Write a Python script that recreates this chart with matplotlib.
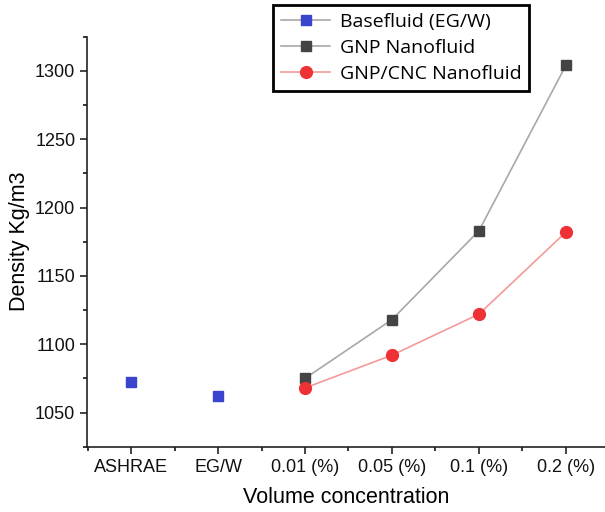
import numpy as np
import matplotlib.pyplot as plt
from matplotlib.lines import Line2D
from matplotlib.ticker import MultipleLocator

# density values (kg/m3)
categorias = ["ASHRAE", "EG/W", "0.01 (%)", "0.05 (%)", "0.1 (%)", "0.2 (%)"]
base_idx = [0, 1]
base_dens = [1072, 1062]
nano_idx = [2, 3, 4, 5]
gnp_dens = [1075, 1118, 1183, 1304]
gnp_cnc_dens = [1068, 1092, 1122, 1182]

plt.rcParams['font.family'] = ['Liberation Sans', 'DejaVu Sans']

fig = plt.figure(figsize=(6.05, 5.12), dpi=100)
ax = fig.add_axes([0.144, 0.1275, 0.856, 0.8008])

ax.plot(base_idx, base_dens, linestyle='', marker='s', markersize=7, color='#3a43cc')
ax.plot(nano_idx, gnp_dens, color='#a8a8a8', lw=1.2, marker='s', markersize=7,
        markerfacecolor='#444444', markeredgecolor='#444444')
ax.plot(nano_idx, gnp_cnc_dens, color='#f39a9a', lw=1.2, marker='o', markersize=8.5,
        markerfacecolor='#ee3135', markeredgecolor='#ee3135')

ax.set_xlim(-0.506, 5.45)
ax.set_ylim(1025, 1325)
ax.set_xticks(range(len(categorias)))
ax.set_xticklabels(categorias)
ax.xaxis.set_minor_locator(MultipleLocator(0.5))
ax.yaxis.set_major_locator(MultipleLocator(50))
ax.yaxis.set_minor_locator(MultipleLocator(25))
ax.tick_params(axis='both', which='major', direction='out', length=5, width=1.1, labelsize=13, colors='#111111')
ax.tick_params(axis='both', which='minor', direction='out', length=3, width=1.1)
for s in ['top', 'right']:
    ax.spines[s].set_visible(False)
for s in ['left', 'bottom']:
    ax.spines[s].set_linewidth(1.2)
    ax.spines[s].set_color('#222222')

ax.set_xlabel("Volume concentration", fontsize=15.5, labelpad=8)
ax.set_ylabel("Density Kg/m3", fontsize=15.5, labelpad=4)

#<----------------------------leyenda---------------------------->
handles = [
    Line2D([], [], color='#a8a8a8', lw=1.2, marker='s', markersize=7,
           markerfacecolor='#3a43cc', markeredgecolor='#3a43cc'),
    Line2D([], [], color='#a8a8a8', lw=1.2, marker='s', markersize=7,
           markerfacecolor='#444444', markeredgecolor='#444444'),
    Line2D([], [], color='#f39a9a', lw=1.2, marker='o', markersize=8.5,
           markerfacecolor='#ee3135', markeredgecolor='#ee3135'),
]
labels = ["Basefluid (EG/W)", "GNP Nanofluid", "GNP/CNC Nanofluid"]
leg = fig.legend(handles, labels, loc='upper left', bbox_to_anchor=(0.452, 0.99),
                 fancybox=False, framealpha=1, edgecolor='black',
                 prop={'family': 'Open Sans', 'size': 14}, handlelength=2.5,
                 labelspacing=0.42, borderpad=0.4, handletextpad=0.5, borderaxespad=0)
leg.get_frame().set_linewidth(2)

plt.savefig("out.png", dpi=100)
